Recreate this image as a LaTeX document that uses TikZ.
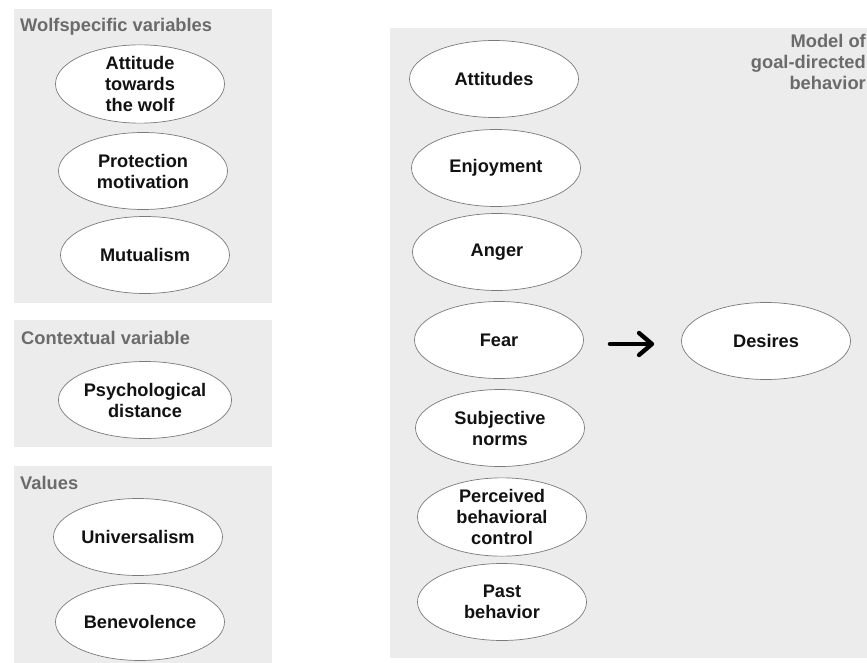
\documentclass[tikz,border=0pt]{standalone}
\usepackage{fontspec}
\setmainfont{Liberation Sans}
\usetikzlibrary{shapes.geometric,arrows.meta}
\definecolor{panelfill}{HTML}{ECECEC}
\definecolor{titlegray}{HTML}{6B6B6B}
\definecolor{rimgray}{HTML}{7A7A7A}
\begin{document}
\begin{tikzpicture}[x=1pt,y=-1pt,
  panel/.style={fill=panelfill,draw=none},
  ptitle/.style={text=titlegray,font=\bfseries\fontsize{18.3}{21}\selectfont,inner sep=0pt},
  var/.style={ellipse,draw=rimgray,line width=0.7pt,fill=white,inner sep=0pt,
    minimum width=169pt,minimum height=77pt,align=center,text=black!93,
    font=\bfseries\fontsize{18.2}{21}\selectfont},
  flow/.style={line width=4.3pt,line cap=round,
    -{Straight Barb[length=13pt,width=22pt,line cap=round,line join=round]}}]
\useasboundingbox (0,0) rectangle (867,663);
\fill[white] (0,0) rectangle (867,663);

% panels
\path[panel] (14,9) rectangle (272,303);
\path[panel] (14,320) rectangle (272,447);
\path[panel] (14,466) rectangle (272,663);
\path[panel] (390,28) rectangle (867,658);

% panel titles
\node[ptitle,anchor=west] (twolf) at (20,27) {Wolfspecific variables};
\node[ptitle,anchor=west] (tctx) at (21,338) {Contextual variable};
\node[ptitle,anchor=west] (tval) at (20,483) {Values};
\node[ptitle,anchor=north east,align=right] (tmgb) at (866,34)
  {Model of\\goal-directed\\behavior};

% wolf-specific variables
\node[var] (attwolf) at (140,84) {Attitude\\towards\\the wolf};
\node[var] (protect) at (143,171) {Protection\\motivation};
\node[var] (mutual) at (145,255) {Mutualism};

% contextual variable
\node[var] (psych) at (145,400) {Psychological\\distance};

% values
\node[var] (univ) at (138,537) {Universalism};
\node[var] (benev) at (140,622) {Benevolence};

% model of goal-directed behavior
\node[var] (attitudes) at (494,79) {Attitudes};
\node[var] (enjoy) at (496,168) {Enjoyment};
\node[var] (anger) at (497,252) {Anger};
\node[var] (fear) at (499,340) {Fear};
\node[var] (subnorm) at (500,428) {Subjective\\norms};
\node[var] (pbc) at (502,517) {Perceived\\behavioral\\control};
\node[var] (past) at (502,602) {Past\\behavior};
\node[var] (desires) at (766,341) {Desires};

\draw[flow] ([xshift=26pt,yshift=-4pt]fear.east) -- ([xshift=-27pt,yshift=-3pt]desires.west);
\end{tikzpicture}
\end{document}
